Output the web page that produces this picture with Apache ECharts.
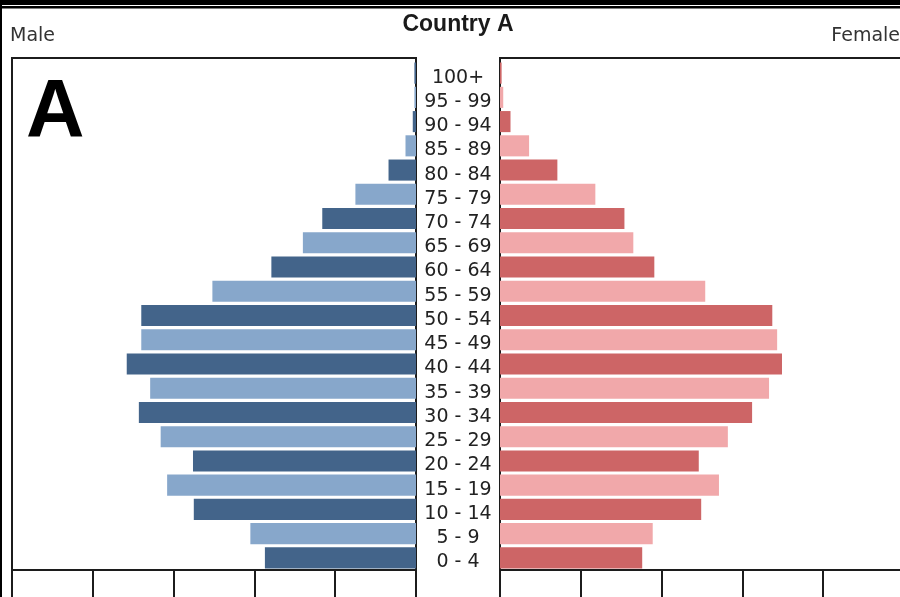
<!DOCTYPE html>
<html>
<head>
<meta charset="utf-8">
<script src="https://cdn.jsdelivr.net/npm/echarts@6/dist/echarts.min.js"></script>
<style>
html,body{margin:0;padding:0;background:#fff;}
#chart{width:900px;height:597px;}
</style>
</head>
<body>
<div id="chart"></div>
<script>
// Age groups, bottom to top
var ageGroups = ['0 - 4','5 - 9','10 - 14','15 - 19','20 - 24','25 - 29','30 - 34','35 - 39','40 - 44','45 - 49','50 - 54','55 - 59','60 - 64','65 - 69','70 - 74','75 - 79','80 - 84','85 - 89','90 - 94','95 - 99','100+'];
var male   = [1.87, 2.05, 2.75, 3.08, 2.76, 3.16, 3.43, 3.29, 3.58, 3.40, 3.40, 2.52, 1.79, 1.40, 1.16, 0.75, 0.34, 0.13, 0.04, 0.02, 0.02];
var female = [1.76, 1.89, 2.49, 2.71, 2.46, 2.82, 3.12, 3.33, 3.49, 3.43, 3.37, 2.54, 1.91, 1.65, 1.54, 1.18, 0.71, 0.36, 0.13, 0.04, 0.02];
var axisMax = 5;
var axisStep = 1;
var titleText = 'Country A';
var leftLabel = 'Male';
var rightLabel = 'Female';
var panelLetter = 'A';

var maleDark = '#43648a', maleLight = '#87a7cb';
var femaleDark = '#cd6566', femaleLight = '#f1a8aa';
var lineColor = '#1c1c1c';

var chart = echarts.init(document.getElementById('chart'), null, {renderer:'canvas'});

function frameAxisX(gi, inv){
  return {type:'value', gridIndex:gi, min:0, max:axisMax, interval:axisStep, inverse:inv, show:false};
}
function frameAxisY(gi){
  return {type:'category', gridIndex:gi, data:ageGroups, show:false};
}

var option = {
  backgroundColor:'#ffffff',
  animation:false,
  grid:[
    {left:12, width:404, top:61, height:509, show:false, outerBoundsMode:'none'},
    {left:500, width:404, top:61, height:509, show:false, outerBoundsMode:'none'},
    {left:12, width:404, top:58, height:512, show:true, borderColor:lineColor, borderWidth:2, backgroundColor:'transparent', z:0, outerBoundsMode:'none'},
    {left:500, width:404, top:58, height:512, show:true, borderColor:lineColor, borderWidth:2, backgroundColor:'transparent', z:0, outerBoundsMode:'none'}
  ],
  xAxis:[
    {type:'value', gridIndex:0, min:0, max:axisMax, interval:axisStep, inverse:true,
     axisLine:{show:true, lineStyle:{color:lineColor, width:2}},
     axisTick:{show:true, length:32, lineStyle:{color:lineColor, width:2}},
     axisLabel:{show:false}, splitLine:{show:false}},
    {type:'value', gridIndex:1, min:0, max:axisMax, interval:axisStep,
     axisLine:{show:true, lineStyle:{color:lineColor, width:2}},
     axisTick:{show:true, length:32, lineStyle:{color:lineColor, width:2}},
     axisLabel:{show:false}, splitLine:{show:false}},
    frameAxisX(2, true), frameAxisX(3, false)
  ],
  yAxis:[
    {type:'category', gridIndex:0, data:ageGroups, position:'right',
     axisLine:{show:false}, axisTick:{show:false},
     axisLabel:{show:true, interval:0, margin:42, align:'center', verticalAlign:'top', lineHeight:9,
       color:'#222', fontFamily:'DejaVu Sans', fontSize:19}},
    {type:'category', gridIndex:1, data:ageGroups, position:'left',
     axisLine:{show:false}, axisTick:{show:false}, axisLabel:{show:false}},
    frameAxisY(2), frameAxisY(3)
  ],
  series:[
    {type:'bar', name:leftLabel, xAxisIndex:0, yAxisIndex:0, data:male, barCategoryGap:'13%',
     itemStyle:{color:function(p){return p.dataIndex % 2 === 0 ? maleDark : maleLight;}}, z:2},
    {type:'bar', name:rightLabel, xAxisIndex:1, yAxisIndex:1, data:female, barCategoryGap:'13%',
     itemStyle:{color:function(p){return p.dataIndex % 2 === 0 ? femaleDark : femaleLight;}}, z:2}
  ],
  graphic:[
    {type:'rect', shape:{x:0, y:0, width:900, height:5}, style:{fill:'#000'}, z:10},
    {type:'rect', shape:{x:0, y:6, width:900, height:2.5}, style:{fill:'#000'}, z:10},
    {type:'rect', shape:{x:0, y:0, width:2, height:597}, style:{fill:'#000'}, z:10},
    {type:'text', style:{x:458, y:25, text:titleText, textAlign:'center', textVerticalAlign:'middle',
      font:'bold 23px "Liberation Sans", Arial, sans-serif', fill:'#1a1a1a'}, z:10},
    {type:'text', style:{x:10, y:36, text:leftLabel, textAlign:'left', textVerticalAlign:'middle',
      font:'19px "DejaVu Sans", sans-serif', fill:'#333'}, z:10},
    {type:'text', style:{x:900, y:36, text:rightLabel, textAlign:'right', textVerticalAlign:'middle',
      font:'19px "DejaVu Sans", sans-serif', fill:'#333'}, z:10},
    {type:'text', style:{x:26, y:114, text:panelLetter, textAlign:'left', textVerticalAlign:'middle',
      font:'bold 81px "Liberation Sans", Arial, sans-serif', fill:'#000'}, z:10}
  ]
};
chart.setOption(option);
</script>
</body>
</html>
